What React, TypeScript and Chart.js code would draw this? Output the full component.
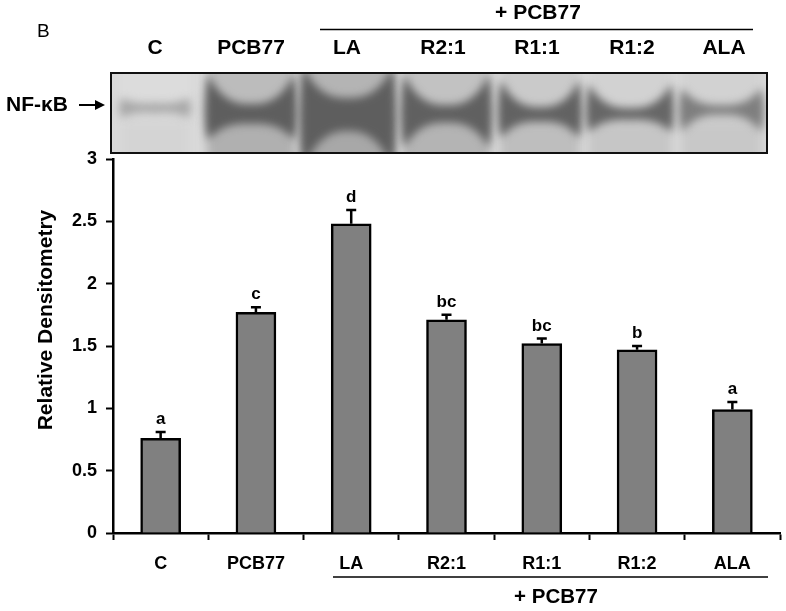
import React, { useEffect, useRef } from "react";
import { Chart, registerables } from "chart.js";

Chart.register(...registerables);

const categories = ["C", "PCB77", "LA", "R2:1", "R1:1", "R1:2", "ALA"];
const densitometry = [0.76, 1.77, 2.48, 1.71, 1.52, 1.47, 0.99];
const errors = [0.05, 0.04, 0.11, 0.04, 0.04, 0.03, 0.06];
const significance = ["a", "c", "d", "bc", "bc", "b", "a"];
const blotLabels = ["C", "PCB77", "LA", "R2:1", "R1:1", "R1:2", "ALA"];

const FONT = '"Liberation Sans", Arial, sans-serif';

// Appearance of the gel image above the plot (illustration, not chart data)
const blotLanes = [
  { x0: 118, x1: 192, tO: 98, tI: 103, bI: 113, bO: 118, dark: "#a8a8a8", lane: "#dcdcdc", low: "#d4d4d4" },
  { x0: 204, x1: 298, tO: 74, tI: 104, bI: 124, bO: 140, dark: "#5e5e5e", lane: "#bcbcbc", low: "#b0b0b0" },
  { x0: 299, x1: 397, tO: 66, tI: 98, bI: 131, bO: 170, dark: "#5e5e5e", lane: "#b4b4b4", low: "#a8a8a8" },
  { x0: 400, x1: 493, tO: 74, tI: 105, bI: 123, bO: 148, dark: "#606060", lane: "#c2c2c2", low: "#b4b4b4" },
  { x0: 497, x1: 583, tO: 80, tI: 107, bI: 122, bO: 138, dark: "#626262", lane: "#cacaca", low: "#bebebe" },
  { x0: 585, x1: 675, tO: 84, tI: 108, bI: 120, bO: 132, dark: "#666666", lane: "#d2d2d2", low: "#c6c6c6" },
  { x0: 678, x1: 765, tO: 88, tI: 105, bI: 115, bO: 132, dark: "#7e7e7e", lane: "#d2d2d2", low: "#c8c8c8" },
];

function drawBlot(ctx: CanvasRenderingContext2D) {
  const X = 111, Y = 73, W = 656, H = 80;
  ctx.save();
  ctx.beginPath();
  ctx.rect(X, Y, W, H);
  ctx.clip();
  ctx.fillStyle = "#dadada";
  ctx.fillRect(X, Y, W, H);
  for (const l of blotLanes) {
    const cx = (l.x0 + l.x1) / 2;
    const rx = (l.x1 - l.x0) / 2;
    ctx.filter = "blur(5px)";
    const g = ctx.createLinearGradient(0, Y, 0, Y + H);
    g.addColorStop(0, l.lane);
    g.addColorStop(0.4, l.lane);
    g.addColorStop(0.7, l.low);
    g.addColorStop(1, l.low);
    ctx.fillStyle = g;
    ctx.fillRect(l.x0 + 3, Y - 8, l.x1 - l.x0 - 6, H + 16);
    ctx.filter = "blur(4.5px)";
    ctx.fillStyle = l.dark;
    ctx.beginPath();
    ctx.moveTo(l.x0 + 4, l.tO);
    ctx.quadraticCurveTo(cx - rx * 0.6, l.tI + 2, cx, l.tI);
    ctx.quadraticCurveTo(cx + rx * 0.6, l.tI + 2, l.x1 - 4, l.tO);
    ctx.quadraticCurveTo(l.x1 + 2, (l.tI + l.bI) / 2, l.x1 - 4, l.bO);
    ctx.quadraticCurveTo(cx + rx * 0.6, l.bI - 2, cx, l.bI);
    ctx.quadraticCurveTo(cx - rx * 0.6, l.bI - 2, l.x0 + 4, l.bO);
    ctx.quadraticCurveTo(l.x0 - 2, (l.tI + l.bI) / 2, l.x0 + 4, l.tO);
    ctx.closePath();
    ctx.fill();
  }
  ctx.filter = "none";
  ctx.restore();
  ctx.strokeStyle = "#111111";
  ctx.lineWidth = 2;
  ctx.strokeRect(X, Y, W, H);
}

const annotationPlugin = {
  id: "figureParts",
  afterDatasetsDraw(chart: any) {
    const { ctx, scales } = chart;
    const xs = scales.x;
    const ys = scales.y;
    ctx.save();
    ctx.strokeStyle = "#000";
    ctx.fillStyle = "#000";
    ctx.lineWidth = 2.5;
    ctx.textAlign = "center";
    ctx.textBaseline = "alphabetic";
    categories.forEach((_, i) => {
      const x = xs.getPixelForValue(i);
      const yBar = ys.getPixelForValue(densitometry[i]);
      const yTop = ys.getPixelForValue(densitometry[i] + errors[i]);
      ctx.beginPath();
      ctx.moveTo(x, yBar);
      ctx.lineTo(x, yTop);
      ctx.moveTo(x - 5, yTop);
      ctx.lineTo(x + 5, yTop);
      ctx.stroke();
      ctx.font = `bold 17px ${FONT}`;
      ctx.fillText(significance[i], x, yTop - 8);
    });
    ctx.restore();
  },
  afterDraw(chart: any) {
    const { ctx } = chart;
    ctx.save();
    drawBlot(ctx);
    ctx.fillStyle = "#000";
    ctx.strokeStyle = "#000";
    ctx.textBaseline = "middle";
    ctx.textAlign = "left";
    ctx.font = `19px ${FONT}`;
    ctx.fillText("B", 37, 32);

    ctx.textAlign = "center";
    ctx.font = `bold 21px ${FONT}`;
    const tops = [155, 251, 347, 443, 537, 632, 724];
    blotLabels.forEach((t, i) => ctx.fillText(t, tops[i], 48));
    ctx.fillText("+ PCB77", 538, 13);
    ctx.lineWidth = 1.5;
    ctx.beginPath();
    ctx.moveTo(320, 29.5);
    ctx.lineTo(753, 29.5);
    ctx.stroke();

    ctx.textAlign = "left";
    ctx.fillText("NF-κB", 6, 105);
    ctx.lineWidth = 2;
    ctx.beginPath();
    ctx.moveTo(79, 105);
    ctx.lineTo(98, 105);
    ctx.stroke();
    ctx.beginPath();
    ctx.moveTo(105, 105);
    ctx.lineTo(95, 100);
    ctx.lineTo(95, 110);
    ctx.closePath();
    ctx.fill();

    ctx.textAlign = "center";
    ctx.lineWidth = 1.5;
    ctx.beginPath();
    ctx.moveTo(333, 577);
    ctx.lineTo(768, 577);
    ctx.stroke();
    ctx.font = `bold 20.5px ${FONT}`;
    ctx.fillText("+ PCB77", 556, 597);

    ctx.translate(46, 320);
    ctx.rotate(-Math.PI / 2);
    ctx.font = `bold 21px ${FONT}`;
    ctx.fillText("Relative Densitometry", 0, 0);
    ctx.restore();
  },
};

export default function App() {
  const ref = useRef<HTMLCanvasElement>(null);
  useEffect(() => {
    const chart = new Chart(ref.current as HTMLCanvasElement, {
      type: "bar",
      data: {
        labels: categories,
        datasets: [
          {
            data: densitometry,
            backgroundColor: "#808080",
            borderColor: "#000000",
            borderWidth: 2.5,
            barThickness: 40,
          },
        ],
      },
      options: {
        responsive: false,
        animation: false,
        layout: { padding: { top: 159, right: 6, left: 0, bottom: 0 } },
        plugins: { legend: { display: false }, tooltip: { enabled: false } },
        scales: {
          x: {
            afterFit(s: any) {
              s.height = 78;
            },
            border: { color: "#000", width: 2.5 },
            grid: {
              offset: true,
              drawOnChartArea: false,
              drawTicks: true,
              tickLength: 7,
              tickColor: "#000",
              tickWidth: 2,
            },
            ticks: {
              color: "#000",
              padding: 13,
              maxRotation: 0,
              font: { family: FONT, size: 18, weight: "bold" },
            },
          },
          y: {
            min: 0,
            max: 3,
            afterFit(s: any) {
              s.width = 113;
            },
            border: { color: "#000", width: 2.5 },
            grid: {
              drawOnChartArea: false,
              drawTicks: true,
              tickLength: 7,
              tickColor: "#000",
              tickWidth: 2,
            },
            ticks: {
              color: "#000",
              stepSize: 0.5,
              padding: 9,
              font: { family: FONT, size: 18, weight: "bold" },
              callback: (v: any) => String(v),
            },
          },
        },
      },
      plugins: [annotationPlugin],
    } as any);
    return () => chart.destroy();
  }, []);
  return (
    <div style={{ position: "absolute", left: 0, top: 0, width: 786, height: 611, background: "#fff" }}>
      <canvas ref={ref} width={786} height={611} style={{ display: "block" }} />
    </div>
  );
}
